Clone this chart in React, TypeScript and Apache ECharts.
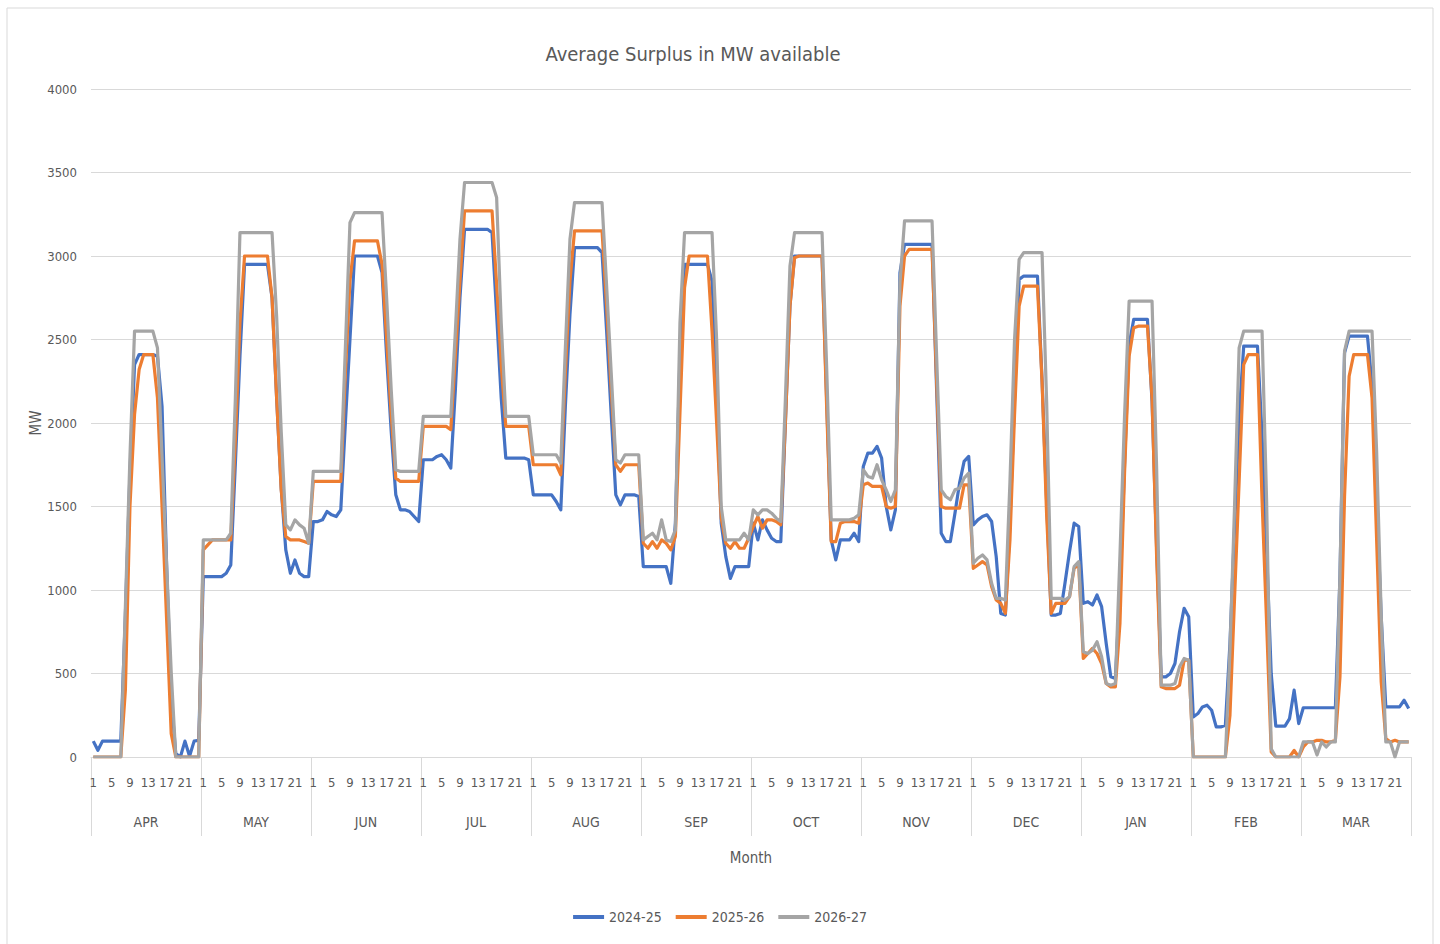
import React, { useEffect, useRef } from 'react';
import * as echarts from 'echarts';

const MONTHS = ['APR', 'MAY', 'JUN', 'JUL', 'AUG', 'SEP', 'OCT', 'NOV', 'DEC', 'JAN', 'FEB', 'MAR'];
const HOURS = [1, 2, 3, 4, 5, 6, 7, 8, 9, 10, 11, 12, 13, 14, 15, 16, 17, 18, 19, 20, 21, 22, 23, 24];
const SERIES_NAMES = ['2024-25', '2025-26', '2026-27'];
const COLORS = ['#4472C4', '#ED7D31', '#A5A5A5'];
const Y_TICKS = [0, 500, 1000, 1500, 2000, 2500, 3000, 3500, 4000];

// 2024-25, hourly values (hour 1..24) for each month
const MW_2024_25 = [
  95, 40, 95, 95, 95, 95, 95, 850, 1700, 2350, 2410, 2410, 2410, 2410, 2400, 2100, 1150, 350, 20, 0, 95, 5, 95, 100, // APR
  1080, 1080, 1080, 1080, 1080, 1100, 1150, 1760, 2400, 2950, 2950, 2950, 2950, 2950, 2950, 2750, 2150, 1610, 1240, 1100, 1180, 1100, 1080, 1080, // MAY
  1410, 1410, 1420, 1470, 1450, 1440, 1480, 2000, 2500, 3000, 3000, 3000, 3000, 3000, 3000, 2900, 2400, 1950, 1570, 1480, 1480, 1470, 1440, 1410, // JUN
  1780, 1780, 1780, 1800, 1810, 1780, 1730, 2200, 2750, 3160, 3160, 3160, 3160, 3160, 3160, 3140, 2650, 2150, 1790, 1790, 1790, 1790, 1790, 1780, // JUL
  1570, 1570, 1570, 1570, 1570, 1530, 1480, 2100, 2650, 3050, 3050, 3050, 3050, 3050, 3050, 3020, 2550, 2050, 1570, 1510, 1570, 1570, 1570, 1560, // AUG
  1140, 1140, 1140, 1140, 1140, 1140, 1040, 1400, 2400, 2950, 2950, 2950, 2950, 2950, 2950, 2850, 2200, 1400, 1200, 1070, 1140, 1140, 1140, 1140, // SEP
  1400, 1300, 1420, 1360, 1310, 1290, 1290, 2000, 2700, 3000, 3000, 3000, 3000, 3000, 3000, 3000, 2150, 1300, 1180, 1300, 1300, 1300, 1340, 1290, // OCT
  1740, 1820, 1820, 1860, 1790, 1500, 1360, 1480, 2900, 3070, 3070, 3070, 3070, 3070, 3070, 3070, 2200, 1340, 1290, 1290, 1460, 1640, 1770, 1800, // NOV
  1390, 1420, 1440, 1450, 1410, 1200, 860, 850, 1400, 2150, 2860, 2880, 2880, 2880, 2880, 2260, 1530, 850, 850, 860, 1040, 1230, 1400, 1380, // DEC
  920, 930, 910, 970, 900, 680, 480, 470, 1000, 1750, 2470, 2620, 2620, 2620, 2620, 2130, 1250, 480, 480, 500, 560, 750, 890, 840, // JAN
  240, 260, 300, 310, 280, 180, 180, 190, 680, 1370, 2040, 2460, 2460, 2460, 2460, 1930, 1230, 500, 185, 185, 185, 230, 400, 200, // FEB
  295, 295, 295, 295, 295, 295, 295, 295, 1080, 2420, 2520, 2520, 2520, 2520, 2520, 2230, 1550, 840, 300, 300, 300, 300, 340, 290, // MAR
];

const MW_2025_26 = [
  0, 0, 0, 0, 0, 0, 0, 400, 1500, 2050, 2320, 2410, 2410, 2410, 2150, 1500, 820, 140, 0, 0, 0, 0, 0, 0, // APR
  1240, 1270, 1300, 1300, 1300, 1300, 1300, 1900, 2600, 3000, 3000, 3000, 3000, 3000, 3000, 2750, 2150, 1600, 1320, 1300, 1300, 1300, 1290, 1280, // MAY
  1650, 1650, 1650, 1650, 1650, 1650, 1650, 2300, 2850, 3090, 3090, 3090, 3090, 3090, 3090, 2950, 2500, 2050, 1670, 1650, 1650, 1650, 1650, 1650, // JUN
  1980, 1980, 1980, 1980, 1980, 1980, 1960, 2400, 2850, 3270, 3270, 3270, 3270, 3270, 3270, 3270, 2830, 2350, 1980, 1980, 1980, 1980, 1980, 1980, // JUL
  1750, 1750, 1750, 1750, 1750, 1750, 1690, 2300, 2850, 3150, 3150, 3150, 3150, 3150, 3150, 3150, 2700, 2200, 1750, 1710, 1750, 1750, 1750, 1750, // AUG
  1280, 1250, 1290, 1250, 1300, 1280, 1240, 1320, 2060, 2810, 3000, 3000, 3000, 3000, 3000, 2550, 2000, 1430, 1280, 1250, 1290, 1250, 1250, 1310, // SEP
  1380, 1440, 1370, 1420, 1420, 1410, 1390, 2000, 2700, 2990, 3000, 3000, 3000, 3000, 3000, 3000, 2100, 1290, 1290, 1400, 1410, 1410, 1410, 1400, // OCT
  1630, 1640, 1620, 1620, 1620, 1500, 1490, 1500, 2700, 3000, 3040, 3040, 3040, 3040, 3040, 3040, 2250, 1500, 1490, 1490, 1490, 1490, 1630, 1630, // NOV
  1130, 1150, 1170, 1150, 1020, 940, 920, 860, 1300, 2050, 2700, 2820, 2820, 2820, 2820, 2250, 1450, 860, 920, 920, 920, 960, 1130, 1150, // DEC
  590, 620, 650, 620, 560, 440, 420, 420, 800, 1700, 2400, 2570, 2580, 2580, 2580, 2150, 1200, 420, 410, 410, 410, 430, 580, 580, // JAN
  0, 0, 0, 0, 0, 0, 0, 0, 250, 950, 1650, 2350, 2410, 2410, 2410, 1540, 800, 30, 0, 0, 0, 0, 40, 0, // FEB
  60, 90, 90, 100, 100, 90, 90, 100, 480, 1560, 2280, 2410, 2410, 2410, 2410, 2150, 1300, 450, 110, 90, 100, 90, 90, 90, // MAR
];

const MW_2026_27 = [
  0, 0, 0, 0, 0, 0, 0, 900, 1800, 2550, 2550, 2550, 2550, 2550, 2450, 1800, 1150, 510, 0, 0, 0, 0, 0, 0, // APR
  1300, 1300, 1300, 1300, 1300, 1300, 1340, 2150, 3140, 3140, 3140, 3140, 3140, 3140, 3140, 3140, 2640, 1950, 1390, 1360, 1420, 1390, 1370, 1280, // MAY
  1710, 1710, 1710, 1710, 1710, 1710, 1710, 2450, 3200, 3260, 3260, 3260, 3260, 3260, 3260, 3260, 2750, 2200, 1720, 1710, 1710, 1710, 1710, 1710, // JUN
  2040, 2040, 2040, 2040, 2040, 2040, 2040, 2550, 3100, 3440, 3440, 3440, 3440, 3440, 3440, 3440, 3350, 2600, 2040, 2040, 2040, 2040, 2040, 2040, // JUL
  1810, 1810, 1810, 1810, 1810, 1810, 1760, 2450, 3100, 3320, 3320, 3320, 3320, 3320, 3320, 3320, 2820, 2300, 1780, 1760, 1810, 1810, 1810, 1810, // AUG
  1300, 1320, 1340, 1300, 1420, 1300, 1290, 1360, 2600, 3140, 3140, 3140, 3140, 3140, 3140, 3140, 2500, 1500, 1300, 1300, 1300, 1300, 1340, 1300, // SEP
  1480, 1450, 1480, 1480, 1460, 1430, 1410, 2140, 2940, 3140, 3140, 3140, 3140, 3140, 3140, 3140, 2340, 1420, 1420, 1420, 1420, 1420, 1430, 1450, // OCT
  1720, 1680, 1670, 1750, 1660, 1600, 1530, 1600, 2840, 3210, 3210, 3210, 3210, 3210, 3210, 3210, 2400, 1600, 1560, 1540, 1600, 1610, 1670, 1700, // NOV
  1160, 1190, 1210, 1180, 1040, 950, 950, 940, 1650, 2500, 2980, 3020, 3020, 3020, 3020, 3020, 2130, 950, 950, 950, 940, 960, 1140, 1170, // DEC
  630, 620, 640, 690, 600, 440, 430, 440, 1210, 2040, 2730, 2730, 2730, 2730, 2730, 2730, 1730, 430, 430, 430, 440, 540, 590, 580, // JAN
  0, 0, 0, 0, 0, 0, 0, 0, 640, 1500, 2450, 2550, 2550, 2550, 2550, 2550, 1530, 50, 0, 0, 0, 0, 0, 0, // FEB
  90, 90, 90, 12, 90, 60, 90, 90, 1090, 2430, 2550, 2550, 2550, 2550, 2550, 2550, 1830, 850, 90, 90, 0, 90, 90, 90, // MAR
];

const SERIES_DATA = [MW_2024_25, MW_2025_26, MW_2026_27];

const FONT = "'Liberation Sans Narrow', 'DejaVu Sans Condensed', 'Liberation Sans', sans-serif";
const TEXT_COLOR = '#595959';
const GRID_COLOR = '#d9d9d9';

export default function App() {
  const ref = useRef<HTMLDivElement>(null);

  useEffect(() => {
    if (!ref.current) return;
    const chart = echarts.init(ref.current, null, { renderer: 'svg' });
    const categories = MONTHS.flatMap((m) => HOURS.map((h) => `${m}|${h}`));

    chart.setOption({
      animation: false,
      backgroundColor: '#ffffff',
      textStyle: { fontFamily: FONT, color: TEXT_COLOR },
      graphic: [
        {
          type: 'rect',
          shape: { x: 7, y: 8, width: 1426, height: 950 },
          style: { fill: 'none', stroke: '#d9d9d9', lineWidth: 1 },
          silent: true,
        },
        {
          type: 'text',
          x: 693,
          y: 54,
          style: {
            text: 'Average Surplus in MW available',
            fontFamily: FONT,
            fontSize: 20,
            fill: TEXT_COLOR,
            textAlign: 'center',
            textVerticalAlign: 'middle',
          },
        },
        {
          type: 'text',
          x: 36,
          y: 423,
          rotation: Math.PI / 2,
          style: {
            text: 'MW',
            fontFamily: FONT,
            fontSize: 15,
            fill: TEXT_COLOR,
            textAlign: 'center',
            textVerticalAlign: 'middle',
          },
        },
      ],
      legend: {
        left: 'center',
        top: 905,
        icon: 'rect',
        itemWidth: 31,
        itemHeight: 4,
        itemGap: 14,
        textStyle: { fontFamily: FONT, fontSize: 14, color: TEXT_COLOR },
        data: SERIES_NAMES,
      },
      grid: { left: 91, right: 29, top: 89, bottom: 187, containLabel: false },
      xAxis: [
        {
          type: 'category',
          data: categories,
          boundaryGap: true,
          position: 'bottom',
          axisLine: { show: true, lineStyle: { color: GRID_COLOR, width: 1 } },
          axisTick: { show: false },
          axisLabel: {
            interval: 3,
            margin: 19,
            fontSize: 13,
            fontFamily: FONT,
            color: TEXT_COLOR,
            formatter: (v: string) => v.split('|')[1],
          },
          splitLine: { show: false },
        },
        {
          type: 'category',
          data: MONTHS,
          boundaryGap: true,
          position: 'bottom',
          offset: 0,
          axisLine: { show: false },
          axisTick: { show: true, length: 79, lineStyle: { color: GRID_COLOR, width: 1 } },
          axisLabel: {
            margin: 58,
            fontSize: 14,
            fontFamily: FONT,
            color: TEXT_COLOR,
          },
          splitLine: { show: false },
          name: 'Month',
          nameLocation: 'middle',
          nameGap: 93,
          nameTextStyle: { fontSize: 15, fontFamily: FONT, color: TEXT_COLOR },
        },
      ],
      yAxis: {
        type: 'value',
        min: Y_TICKS[0],
        max: Y_TICKS[Y_TICKS.length - 1],
        interval: 500,
        axisLine: { show: false },
        axisTick: { show: false },
        axisLabel: {
          margin: 14,
          fontSize: 13,
          fontFamily: FONT,
          color: TEXT_COLOR,
          formatter: (v: number) => String(v),
        },
        splitLine: { show: true, lineStyle: { color: GRID_COLOR, width: 1 } },
      },
      series: SERIES_NAMES.map((name, i) => ({
        name,
        type: 'line',
        xAxisIndex: 0,
        data: SERIES_DATA[i],
        showSymbol: false,
        symbol: 'none',
        smooth: false,
        color: COLORS[i],
        lineStyle: { color: COLORS[i], width: 3.2, join: 'round' },
        emphasis: { disabled: true },
      })),
    });

    return () => chart.dispose();
  }, []);

  return (
    <div
      ref={ref}
      style={{ position: 'absolute', left: 0, top: 0, width: 1440, height: 944, background: '#ffffff' }}
    />
  );
}
